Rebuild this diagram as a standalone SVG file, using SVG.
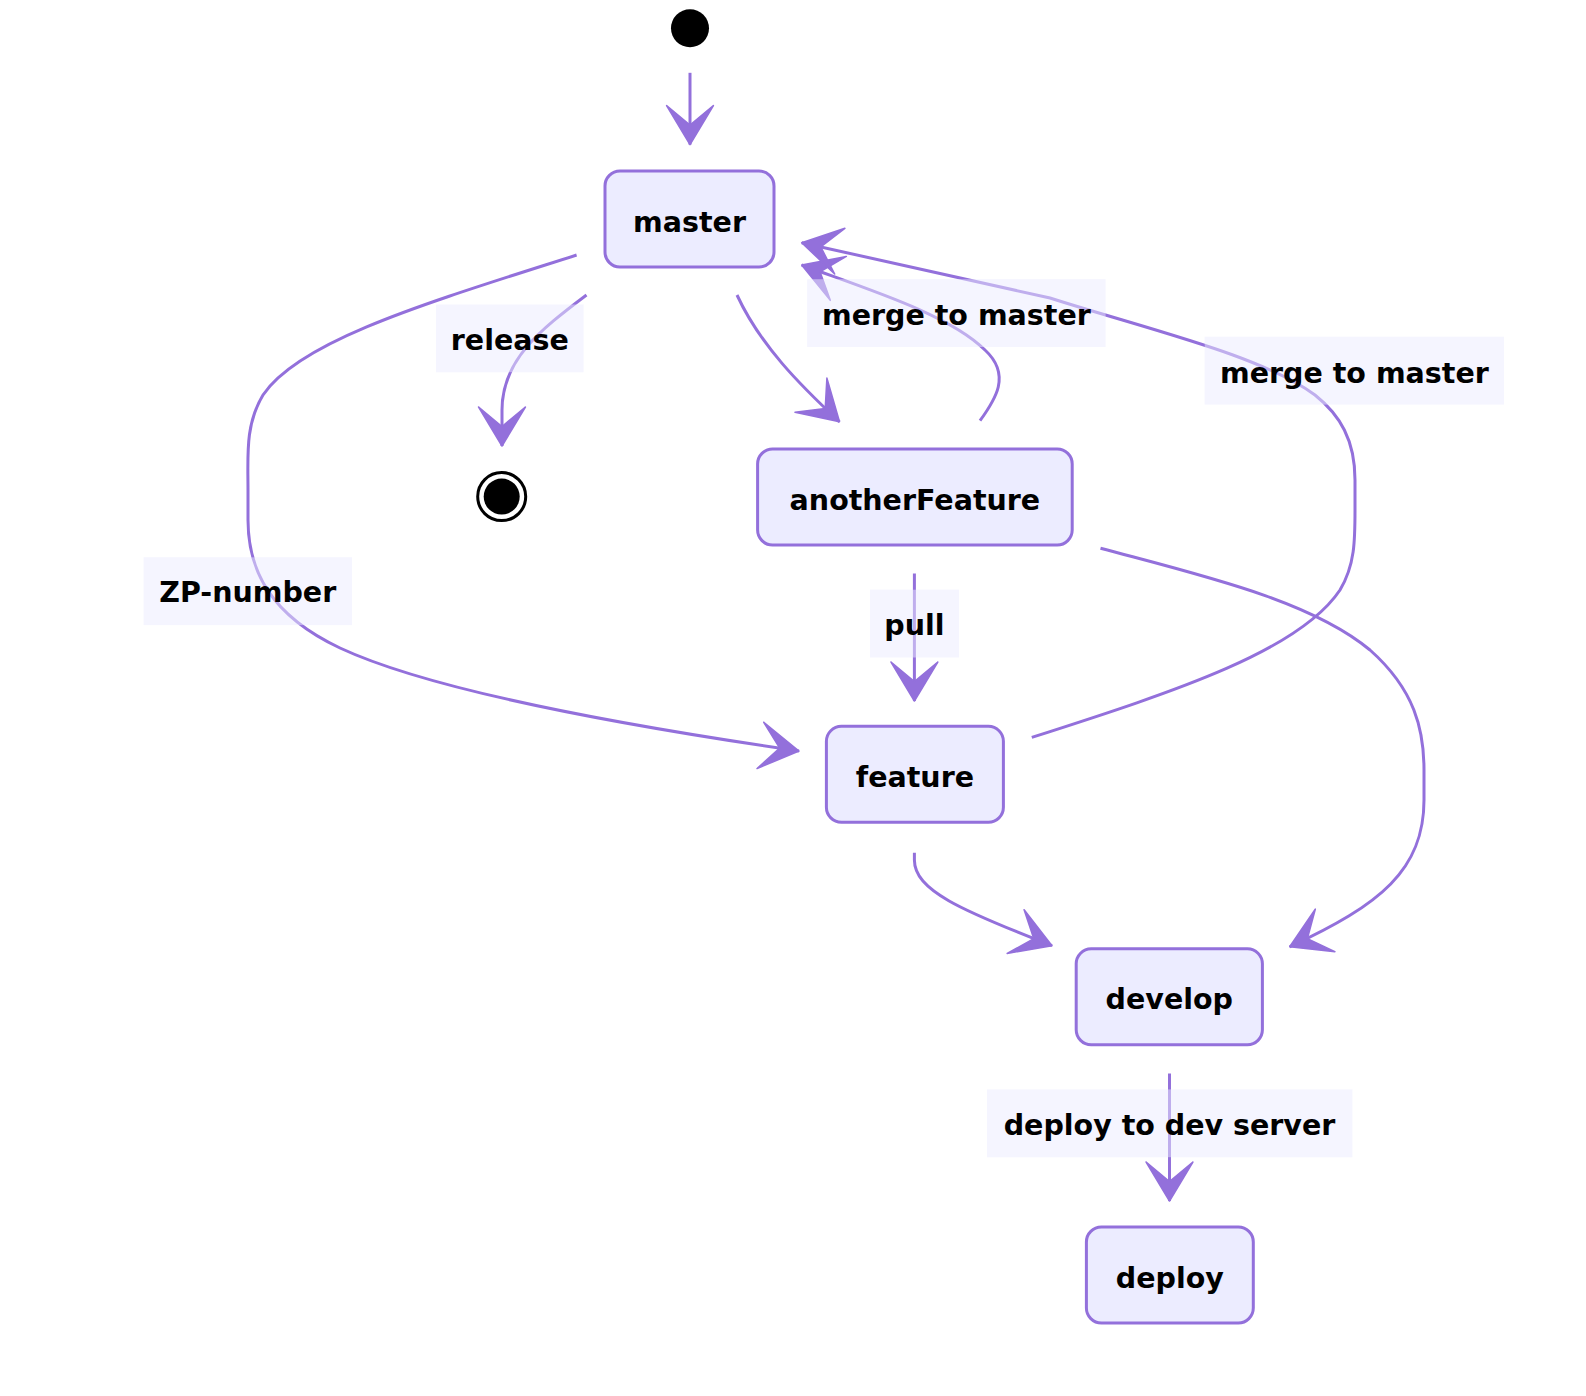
<svg xmlns="http://www.w3.org/2000/svg" width="1586" height="1396" viewBox="0 0 1586 1396">
<style>
.node rect{fill:#ECECFF;stroke:#9370DB;stroke-width:3}
.edge{fill:none;stroke:#9370DB;stroke-width:3}
.lbl rect{fill:#ECECFF;opacity:0.5}
text{font-family:"DejaVu Sans",sans-serif;font-weight:bold;font-size:28.5px;fill:#000;text-anchor:middle;dominant-baseline:central}
</style>
<defs>
<marker id="barb" markerUnits="userSpaceOnUse" viewBox="0 0 20 14" refX="19" refY="7" markerWidth="78" markerHeight="54.6" orient="auto">
<path d="M19,7 L9,13 L14,7 L9,1 Z" fill="#9370DB" stroke="#9370DB" stroke-width="0.4" stroke-linejoin="round"/>
</marker>
</defs>
<rect width="1586" height="1396" fill="#fff"/>
<g id="connectors">
<path class="edge" d="M690,72.8 L690,144.6" marker-end="url(#barb)"/>
<path class="edge" d="M586.5,295 C540,330 502,360 502,410 L502,446" marker-end="url(#barb)"/>
<path class="edge" d="M576.6,255 C430,302 300,340 263,395 C245,425 248,455 248,490 L248,520 C248,570 270,615 340,648 C430,690 620,725 799,751" marker-end="url(#barb)"/>
<path class="edge" d="M737,295 C760,345 800,385 839.5,421.8" marker-end="url(#barb)"/>
<path class="edge" d="M980,420.7 C995,400 1012,375 985,350 C950,315 870,290 801.7,265" marker-end="url(#barb)"/>
<path class="edge" d="M1031.8,737.4 C1180,690 1300,650 1340,590 C1355,565 1355,540 1355,510 L1355,480 C1355,440 1340,415 1315,395 C1260,355 1150,330 1050,298 L801.7,242.7" marker-end="url(#barb)"/>
<path class="edge" d="M914.4,573.5 L914.4,701" marker-end="url(#barb)"/>
<path class="edge" d="M1100.5,548.2 C1200,575 1310,600 1370,650 C1415,690 1424,730 1424,770 L1424,800 C1424,870 1380,905 1289.7,946.8" marker-end="url(#barb)"/>
<path class="edge" d="M914.4,852.7 L914.4,860 C914.4,890 960,910 1052,945.7" marker-end="url(#barb)"/>
<path class="edge" d="M1169.5,1073.5 L1169.5,1201" marker-end="url(#barb)"/>
</g>
<g id="edge-labels">
<g class="lbl" id="lbl-release"><rect x="436" y="304.5" width="147.6" height="67.7"/><text x="509.8" y="340.5">release</text></g>
<g class="lbl" id="lbl-merge1"><rect x="807.2" y="279.2" width="298.4" height="67.8"/><text x="956.4" y="315.5">merge to master</text></g>
<g class="lbl" id="lbl-merge2"><rect x="1204.7" y="336.8" width="299.3" height="67.8"/><text x="1354.4" y="373">merge to master</text></g>
<g class="lbl" id="lbl-zp"><rect x="143.6" y="557.3" width="208.4" height="67.8"/><text x="247.8" y="592.5">ZP-number</text></g>
<g class="lbl" id="lbl-pull"><rect x="870" y="589.7" width="89" height="67.8"/><text x="914.4" y="625">pull</text></g>
<g class="lbl" id="lbl-deploy"><rect x="987" y="1089.4" width="365.4" height="67.8"/><text x="1169.5" y="1125.5">deploy to dev server</text></g>
</g>
<g id="start"><circle cx="690" cy="28.3" r="19" fill="#000"/></g>
<g id="end"><circle cx="501.7" cy="496.6" r="24" fill="#fff" stroke="#000" stroke-width="3"/><circle cx="501.7" cy="496.6" r="18" fill="#000"/></g>
<g class="node" id="master"><rect x="605" y="171" width="169" height="96" rx="15"/><text x="689.5" y="222">master</text></g>
<g class="node" id="anotherFeature"><rect x="757.6" y="449" width="314.6" height="96" rx="15"/><text x="914.9" y="500">anotherFeature</text></g>
<g class="node" id="feature"><rect x="826.4" y="726.3" width="177" height="96" rx="15"/><text x="914.9" y="777.3">feature</text></g>
<g class="node" id="develop"><rect x="1076.2" y="948.8" width="186.2" height="96" rx="15"/><text x="1169.3" y="999.8">develop</text></g>
<g class="node" id="deploy"><rect x="1086.4" y="1227" width="166.9" height="96" rx="15"/><text x="1169.8" y="1278">deploy</text></g>
</svg>
